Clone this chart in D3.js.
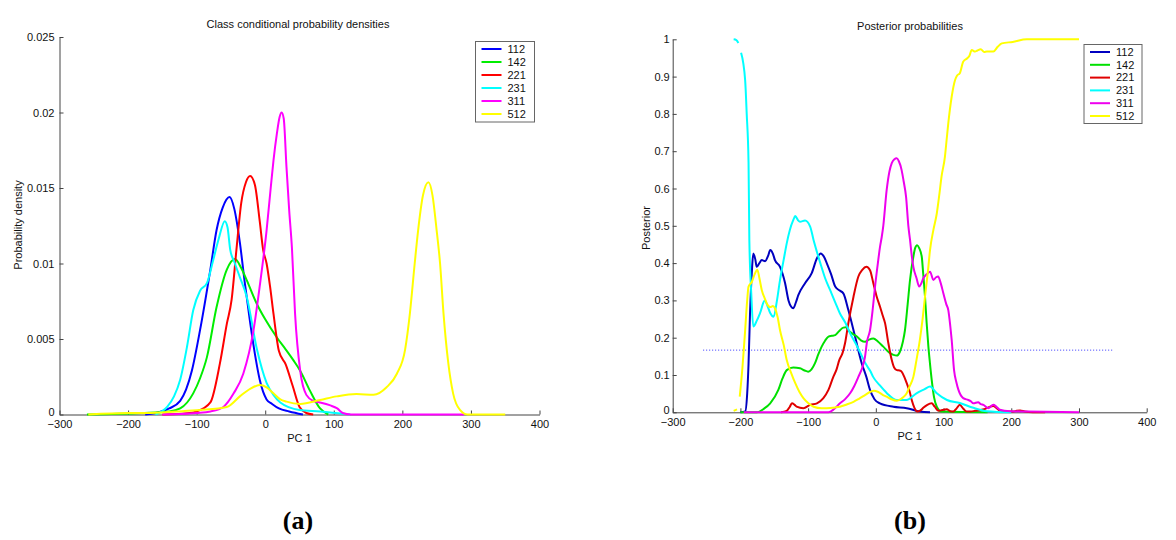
<!DOCTYPE html>
<html><head><meta charset="utf-8">
<script src="https://cdn.jsdelivr.net/npm/d3@7"></script>
<style>
body{margin:0;background:#fff;}
svg{display:block;}
text{font-family:Arial,"Liberation Sans",sans-serif;fill:#111;}
text.caption{font-family:"Liberation Serif","Times New Roman",serif;font-weight:bold;fill:#000;}
</style>
</head><body>
<svg id="chart" width="1176" height="540"></svg>
<script>
// ---------- data ----------
const classLabels = ["112","142","221","231","311","512"];
const xTickValues = [-300,-200,-100,0,100,200,300,400];
const densTickValues = [0,0.005,0.01,0.015,0.02,0.025];
const densTickLabels = ["0","0.005","0.01","0.015","0.02","0.025"];
const postTickValues = [0,0.1,0.2,0.3,0.4,0.5,0.6,0.7,0.8,0.9,1];
const postTickLabels = ["0","0.1","0.2","0.3","0.4","0.5","0.6","0.7","0.8","0.9","1"];
const priorLevel = 1/6;
const priorRange = [-255, 350];

// (a) class conditional densities  [PC1, density]
const dens112 = [[-175,0],[-160,0.0001],[-140,0.0004],[-124,0.0009],[-107,0.0029],[-95,0.0056],[-80,0.0096],[-71,0.0122],[-62,0.0137],[-52,0.0144],[-45,0.0136],[-37,0.0114],[-30,0.0088],[-22,0.0061],[-15,0.0040],[-8,0.0023],[2,0.0010],[10,0.0007],[20,0.0004],[35,0.0002],[55,0]];
const dens142 = [[-260,0],[-180,0.0001],[-140,0.0002],[-124,0.0004],[-105,0.0014],[-95,0.0024],[-85,0.0038],[-71,0.0071],[-56,0.0096],[-44,0.0103],[-35,0.0097],[-27,0.0089],[-12,0.0073],[0,0.0063],[17,0.0051],[30,0.0043],[41,0.0036],[51,0.0029],[65,0.0016],[80,0.0004],[92,0]];
const dens221 = [[-150,0],[-110,0.0001],[-100,0.0002],[-80,0.0008],[-66,0.0034],[-56,0.0060],[-49,0.0076],[-42,0.0109],[-35,0.0140],[-28,0.0154],[-22,0.0158],[-15,0.0152],[-8,0.0128],[-3,0.0109],[2,0.0100],[7,0.0085],[12,0.0067],[20,0.0042],[30,0.0033],[40,0.0019],[50,0.0005],[60,0.0001],[70,0]];
const dens231 = [[-160,0],[-143,0.0005],[-133,0.0012],[-124,0.0023],[-114,0.0045],[-105,0.0069],[-95,0.0082],[-85,0.0087],[-76,0.0102],[-68,0.0116],[-59,0.0128],[-55,0.0124],[-51,0.0109],[-45,0.0101],[-37,0.0091],[-27,0.0078],[-12,0.0043],[2,0.0021],[12,0.0013],[22,0.0008],[50,0.0003],[80,0.0002],[124,0]];
const dens311 = [[-150,0],[-100,0.0001],[-80,0.0002],[-61,0.0005],[-46,0.0014],[-32,0.0027],[-17,0.0056],[-8,0.0085],[2,0.0122],[8,0.0150],[12,0.0168],[17,0.0186],[21,0.0197],[24,0.0200],[27,0.0196],[31,0.0164],[35,0.0135],[39,0.0110],[43.5,0.0067],[51,0.0029],[60,0.0013],[70,0.0009],[80,0.0008],[95,0.0006],[105,0.0004],[113,0.0001],[125,0],[290,0]];
const dens512 = [[-258,0],[-200,0.0001],[-173,0.0001],[-130,0.0002],[-95,0.0003],[-56,0.0005],[-37,0.0012],[-22,0.0017],[-8,0.00195],[2,0.0018],[12,0.0014],[22,0.0010],[31,0.00085],[51,0.0007],[80,0.00096],[104,0.0012],[133,0.00136],[158,0.0013],[177,0.0018],[192,0.0027],[204,0.0043],[211,0.0067],[218,0.0100],[223,0.0122],[230,0.0145],[238,0.01538],[244,0.0145],[250,0.0122],[255,0.0100],[260,0.0067],[267,0.0034],[274,0.0014],[284,0.0003],[295,0],[350,0]];

// (b) posterior probabilities  [PC1, posterior]  (null = gap)
const post112 = [[-200,0],[-193,0.002],[-190,0.05],[-188,0.13],[-185.8,0.266],[-183,0.38],[-181,0.426],[-178,0.41],[-176,0.39],[-172,0.40],[-168.5,0.408],[-163.6,0.405],[-159,0.42],[-156,0.435],[-152,0.425],[-149,0.408],[-141.5,0.39],[-134,0.346],[-129,0.30],[-125,0.283],[-122,0.279],[-118,0.295],[-114.5,0.314],[-104.6,0.346],[-94.7,0.373],[-87,0.413],[-81.4,0.426],[-76,0.415],[-72.5,0.40],[-66,0.37],[-60,0.337],[-54,0.327],[-48,0.319],[-40.6,0.274],[-30.7,0.203],[-20.8,0.131],[-14,0.095],[-8.6,0.06],[-2,0.035],[6,0.024],[26,0.015],[45.6,0.011],[65,0.002],[80,0]];
const post142 = [[-200,0],[-176,0],[-165,0.01],[-156,0.024],[-144,0.06],[-138,0.09],[-131.6,0.113],[-122,0.12],[-112,0.118],[-105,0.112],[-100,0.109],[-95,0.115],[-90,0.131],[-85,0.155],[-80,0.176],[-75,0.192],[-70,0.203],[-65,0.205],[-60,0.207],[-54,0.218],[-48,0.227],[-44,0.228],[-40.6,0.22],[-34,0.21],[-28,0.203],[-22,0.193],[-16,0.189],[-10,0.195],[-3.7,0.198],[3,0.19],[11,0.176],[20,0.16],[26,0.154],[31,0.152],[35.7,0.163],[40,0.19],[43,0.22],[47,0.29],[50.5,0.355],[55.4,0.417],[58,0.44],[61,0.448],[64,0.44],[67.8,0.417],[70,0.37],[72.6,0.31],[75,0.24],[77.6,0.176],[80,0.13],[82.5,0.087],[86,0.04],[90,0.015],[97,0.002],[165,0]];
const post221 = [[-140,0],[-131.6,0.004],[-127,0.015],[-124,0.024],[-120,0.02],[-117,0.015],[-107,0.011],[-97,0.02],[-87,0.024],[-77.5,0.038],[-70,0.06],[-62.8,0.095],[-58,0.115],[-54,0.14],[-49,0.16],[-45.5,0.185],[-40.6,0.239],[-33,0.31],[-25.8,0.364],[-20,0.382],[-14,0.39],[-8.6,0.381],[-3.7,0.346],[1.3,0.31],[6.2,0.283],[10,0.26],[13.6,0.239],[18.5,0.185],[23.5,0.14],[27,0.12],[31,0.113],[35,0.112],[38,0.109],[42,0.095],[45.6,0.078],[50,0.055],[53,0.033],[57,0.012],[61,0.002],[66,0.005],[70,0.012],[76,0.02],[82.5,0.024],[87,0.015],[92.4,0.004],[98,0.006],[104.7,0.008],[110,0.003],[114.5,0.002],[119,0.01],[124,0.02],[129,0.01],[134,0.002],[140,0.002],[146.5,0.004],[160,0.008],[167,0.014],[173.5,0.017],[178,0.012],[183,0.005],[193,0.002],[203,0.002],[208,0.004],[213,0.005],[220,0.002],[232,0],[250,0]];
const post231 = [[-210,1.0],[-206,0.998],[-203,0.99],[-201,null],[-199,0.964],[-193,0.89],[-190.7,0.80],[-188,0.67],[-186.8,0.46],[-184,0.32],[-181,0.23],[-176,0.245],[-171,0.266],[-164,0.30],[-160,0.285],[-156,0.266],[-151,0.256],[-146,0.30],[-141.5,0.355],[-136,0.41],[-131.6,0.453],[-127,0.489],[-122,0.515],[-119,0.526],[-115,0.515],[-112,0.511],[-104.6,0.514],[-97,0.498],[-92,0.462],[-87,0.43],[-82,0.40],[-75,0.36],[-67.6,0.328],[-60,0.295],[-53,0.265],[-45,0.24],[-38,0.212],[-30,0.185],[-23,0.160],[-15,0.13],[-8,0.11],[-4,0.095],[6,0.072],[16,0.052],[31,0.033],[45,0.033],[60,0.051],[72,0.062],[80,0.069],[90,0.051],[105,0.033],[124,0.025],[144,0.012],[164,0.003],[200,0]];
const post311 = [[-195,0],[-70,0],[-62,0.008],[-53,0.024],[-45,0.036],[-38,0.051],[-32,0.07],[-25.8,0.095],[-20,0.12],[-16,0.149],[-13,0.19],[-8.6,0.22],[-5,0.27],[-1.2,0.337],[3,0.40],[6.2,0.444],[8.7,0.47],[11,0.5],[16,0.596],[20,0.645],[23.5,0.668],[27,0.678],[31,0.681],[34,0.673],[38,0.65],[41,0.62],[44.6,0.578],[48,0.5],[50.5,0.462],[53,0.42],[55.4,0.39],[60,0.36],[64,0.337],[67,0.345],[70,0.359],[75,0.37],[80,0.377],[85,0.355],[89,0.362],[92,0.364],[96,0.345],[99.7,0.319],[104,0.29],[107,0.274],[110,0.23],[112,0.194],[115.5,0.113],[119,0.08],[122,0.06],[129,0.038],[136.5,0.033],[140,0.03],[144,0.024],[151,0.027],[155,0.022],[159,0.02],[166,0.011],[173.5,0.02],[178,0.015],[183,0.007],[198,0.003],[223,0.002],[300,0]];
const post512 = [[-210,0.004],[-205,0.008],[-203,null],[-201,0.042],[-197,0.12],[-193,0.22],[-190,0.30],[-188,0.337],[-183,0.35],[-179,0.37],[-175,0.382],[-172,0.36],[-168.5,0.328],[-164,0.305],[-160,0.288],[-156,0.282],[-152,0.285],[-149,0.279],[-145,0.255],[-141.5,0.22],[-136,0.18],[-131.6,0.14],[-125,0.105],[-119,0.078],[-113,0.055],[-107,0.038],[-100,0.025],[-92,0.015],[-80,0.011],[-73,0.011],[-60,0.013],[-53,0.015],[-43,0.021],[-33,0.028],[-25,0.036],[-16,0.046],[-8,0.055],[-3,0.058],[3,0.055],[10,0.047],[16,0.042],[23,0.035],[31,0.031],[38,0.037],[45.6,0.051],[50,0.07],[55.4,0.095],[60,0.14],[65,0.194],[69,0.25],[72.6,0.31],[77,0.38],[80,0.435],[85,0.489],[90,0.533],[93.5,0.58],[97,0.632],[102,0.685],[104.5,0.73],[107,0.775],[112,0.846],[117,0.891],[120,0.903],[124,0.909],[129,0.94],[135,0.949],[138,0.955],[141.6,0.971],[146.5,0.967],[150,0.97],[155,0.973],[160,0.966],[164,0.967],[173.5,0.967],[180,0.98],[186,0.989],[202,0.993],[223,1.0],[300,1.0]];

const densSeries = [dens112, dens142, dens221, dens231, dens311, dens512];
const postSeries = [post112, post142, post221, post231, post311, post512];

// ---------- styles ----------
const colorsA = ["#0000ff","#00ee00","#ff0000","#00ffff","#ff00ff","#ffff00"];
const colorsB = ["#0000c0","#00e000","#e00000","#00ffff","#ee00ee","#ffff00"];

const svg = d3.select("#chart");

function panel(cfg){
  const g = svg.append("g");
  const x = d3.scaleLinear().domain([-300,400]).range(cfg.xRange);
  const y = d3.scaleLinear().domain(cfg.yDomain).range(cfg.yRange);

  const ax = g.append("g").attr("transform",`translate(0,${cfg.yRange[0]})`)
    .call(d3.axisBottom(x).tickValues(xTickValues).tickSizeInner(-4).tickSizeOuter(0).tickPadding(6).tickFormat(d3.format("d")));
  const ay = g.append("g").attr("transform",`translate(${cfg.xRange[0]},0)`)
    .call(d3.axisLeft(y).tickValues(cfg.yTicks).tickSizeInner(-4).tickSizeOuter(0).tickPadding(cfg.yPad)
      .tickFormat((d,i)=>cfg.yLabels[i]));
  [ax,ay].forEach(a=>{
    a.select(".domain").attr("stroke","#444");
    a.selectAll(".tick line").attr("stroke","#444");
    a.selectAll(".tick text").attr("font-size",11).attr("fill","#111");
  });
  // keep the zero label of the y axis clear of the x tick labels
  ay.selectAll(".tick text").filter(d=>d===0).attr("dy","0.1em");

  if (cfg.extra) cfg.extra(g,x,y);

  const line = d3.line().defined(d=>d[1]!==null)
    .x(d=>x(d[0])).y(d=>y(d[1])).curve(d3.curveMonotoneX);
  cfg.series.forEach((s,i)=>{
    g.append("path").datum(s).attr("fill","none")
      .attr("stroke",cfg.colors[i]).attr("stroke-width",2)
      .attr("stroke-linejoin","round").attr("d",line);
  });

  g.append("text").attr("x",cfg.titlePos[0]).attr("y",cfg.titlePos[1])
    .attr("text-anchor","middle").attr("font-size",11).text(cfg.title);
  g.append("text").attr("x",(cfg.xRange[0]+cfg.xRange[1])/2).attr("y",cfg.xLabelY)
    .attr("text-anchor","middle").attr("font-size",11).text("PC 1");
  g.append("text").attr("transform",`translate(${cfg.yLabelPos[0]},${cfg.yLabelPos[1]}) rotate(-90)`)
    .attr("text-anchor","middle").attr("font-size",11).text(cfg.yLabel);

  const L = cfg.legend;
  const lg = g.append("g");
  lg.append("rect").attr("x",L.x).attr("y",L.y).attr("width",L.w).attr("height",L.h)
    .attr("fill","#fff").attr("stroke","#666").attr("stroke-width",1);
  classLabels.forEach((c,i)=>{
    const yy = L.y + L.first + i*L.step;
    lg.append("line").attr("x1",L.x+6).attr("x2",L.x+26).attr("y1",yy).attr("y2",yy)
      .attr("stroke",cfg.colors[i]).attr("stroke-width",2);
    lg.append("text").attr("x",L.x+32).attr("y",yy).attr("dy","0.35em")
      .attr("font-size",11).text(c);
  });

  svg.append("text").attr("class","caption").attr("x",cfg.caption[0]).attr("y",cfg.caption[1])
    .attr("text-anchor","middle").attr("font-size",26).text(cfg.captionText);
}

panel({
  xRange:[59.5,539.5], yDomain:[0,0.025], yRange:[414.5,37],
  yTicks:densTickValues, yLabels:densTickLabels, yPad:5,
  series:densSeries, colors:colorsA,
  title:"Class conditional probability densities", titlePos:[298,28],
  xLabelY:442, yLabel:"Probability density", yLabelPos:[22,225],
  legend:{x:475.5,y:41.5,w:59,h:80.5,first:7.5,step:13},
  caption:[298,529], captionText:"(a)"
});

panel({
  xRange:[672.7,1146.7], yDomain:[0,1], yRange:[412.3,39.3],
  yTicks:postTickValues, yLabels:postTickLabels, yPad:3,
  series:postSeries, colors:colorsB,
  title:"Posterior probabilities", titlePos:[910,30],
  xLabelY:440, yLabel:"Posterior", yLabelPos:[650,228],
  legend:{x:1084,y:44.5,w:58,h:79,first:7.5,step:12.8},
  caption:[910,529], captionText:"(b)",
  extra:(g,x,y)=>{
    g.append("line").attr("x1",x(priorRange[0])).attr("x2",x(priorRange[1]))
      .attr("y1",y(priorLevel)).attr("y2",y(priorLevel))
      .attr("stroke","#3333ff").attr("stroke-width",1).attr("stroke-dasharray","1,2");
  }
});
</script>
</body></html>
